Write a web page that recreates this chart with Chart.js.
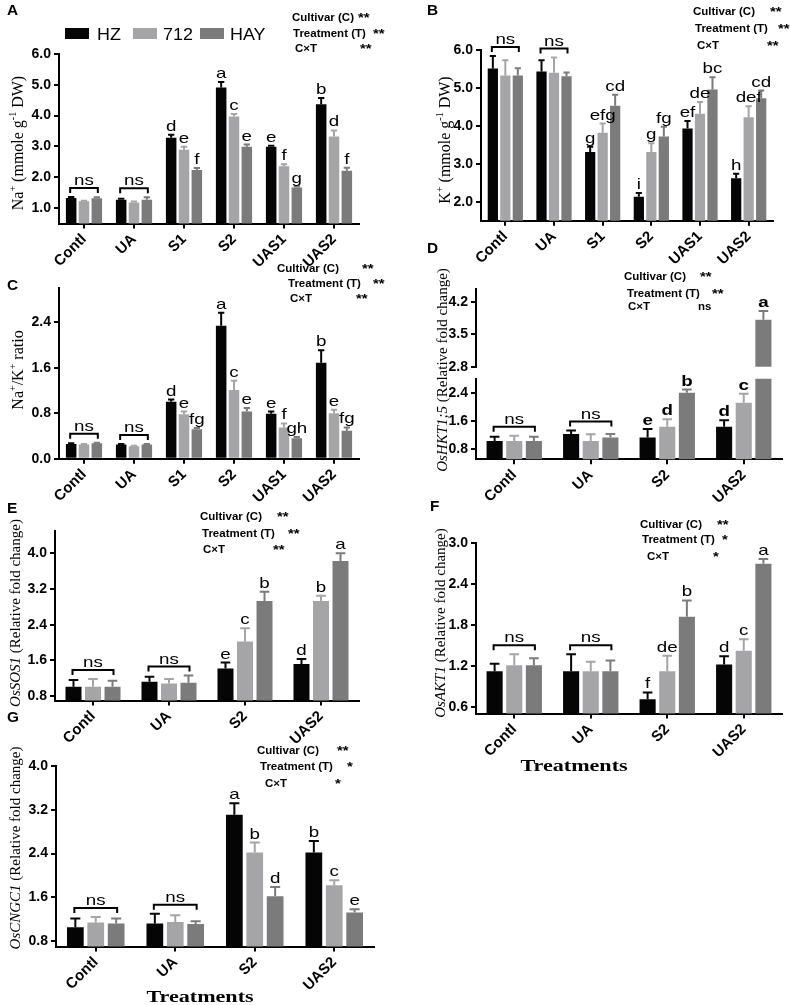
<!DOCTYPE html>
<html>
<head>
<meta charset="utf-8">
<script src="https://cdn.jsdelivr.net/npm/chart.js@4.4.1/dist/chart.umd.min.js"></script>
<style>
  html, body { margin: 0; padding: 0; background: #fff; }
  #wrap { position: relative; width: 790px; height: 1005px; overflow: hidden; background: #fff; }
  canvas { position: absolute; }
</style>
</head>
<body>
<div id="wrap"></div>
<script>
// categories
const treat6 = ['Contl', 'UA', 'S1', 'S2', 'UAS1', 'UAS2'];
const treat4 = ['Contl', 'UA', 'S2', 'UAS2'];
const cultivars = ['HZ', '712', 'HAY'];
const anovaRows = ['Cultivar (C)', 'Treatment (T)', 'C\u00d7T'];

// A - Na+
const naHZ  = [1.33, 1.27, 3.28, 4.91, 2.99, 4.37];
const na712 = [1.22, 1.18, 2.89, 3.97, 2.36, 3.32];
const naHAY = [1.32, 1.27, 2.24, 2.99, 1.67, 2.21];
const naErrHZ  = [0.03, 0.03, 0.10, 0.18, 0.03, 0.20];
const naErr712 = [0.02, 0.03, 0.10, 0.08, 0.06, 0.20];
const naErrHAY = [0.03, 0.08, 0.06, 0.07, 0.03, 0.10];
const naLetHZ  = ['', '', 'd', 'a', 'e', 'b'];
const naLet712 = ['', '', 'e', 'c', 'f', 'd'];
const naLetHAY = ['', '', 'f', 'e', 'g', 'f'];
const naTicks = [1, 2, 3, 4, 5, 6];
const naSig = ['**', '**', '**'];

// B - K+
const kHZ  = [5.51, 5.43, 3.31, 2.13, 3.93, 2.62];
const k712 = [5.33, 5.40, 3.82, 3.31, 4.32, 4.23];
const kHAY = [5.33, 5.31, 4.53, 3.72, 4.96, 4.73];
const kErrHZ  = [0.33, 0.30, 0.14, 0.10, 0.20, 0.12];
const kErr712 = [0.40, 0.40, 0.24, 0.23, 0.31, 0.29];
const kErrHAY = [0.19, 0.10, 0.29, 0.26, 0.32, 0.20];
const kLetHZ  = ['', '', 'g', 'i', 'ef', 'h'];
const kLet712 = ['', '', 'efg', 'g', 'de', 'def'];
const kLetHAY = ['', '', 'cd', 'fg', 'bc', 'cd'];
const kTicks = [2, 3, 4, 5, 6];
const kSig = ['**', '**', '**'];

// C - Na+/K+ ratio
const ratioHZ  = [0.26, 0.25, 1.00, 2.34, 0.79, 1.69];
const ratio712 = [0.25, 0.22, 0.78, 1.21, 0.55, 0.80];
const ratioHAY = [0.27, 0.25, 0.52, 0.83, 0.36, 0.49];
const ratioErrHZ  = [0.01, 0.01, 0.04, 0.23, 0.04, 0.22];
const ratioErr712 = [0.01, 0.01, 0.05, 0.16, 0.07, 0.06];
const ratioErrHAY = [0.01, 0.01, 0.02, 0.06, 0.02, 0.06];
const ratioLetHZ  = ['', '', 'd', 'a', 'e', 'b'];
const ratioLet712 = ['', '', 'e', 'c', 'f', 'e'];
const ratioLetHAY = ['', '', 'fg', 'e', 'gh', 'fg'];
const ratioTicks = [0, 0.8, 1.6, 2.4];
const ratioSig = ['**', '**', '**'];

// D - OsHKT1;5 (broken axis)
const hktHZ  = [1.02, 1.22, 1.12, 1.43];
const hkt712 = [1.02, 1.02, 1.43, 2.11];
const hktHAY = [1.02, 1.12, 2.40, 3.82];
const hktErrHZ  = [0.12, 0.10, 0.24, 0.18];
const hktErr712 = [0.15, 0.19, 0.21, 0.26];
const hktErrHAY = [0.12, 0.10, 0.09, 0.19];
const hktLetHZ  = ['', '', 'e', 'd'];
const hktLet712 = ['', '', 'd', 'c'];
const hktLetHAY = ['', '', 'b', 'a'];
const hktTicksLow = [0.8, 1.6, 2.4];
const hktTicksHigh = [2.8, 3.5, 4.2];
const hktSig = ['**', '**', 'ns'];

// E - OsSOS1
const sosHZ  = [1.01, 1.12, 1.42, 1.52];
const sos712 = [1.01, 1.08, 2.02, 2.93];
const sosHAY = [1.01, 1.10, 2.93, 3.83];
const sosErrHZ  = [0.15, 0.11, 0.13, 0.11];
const sosErr712 = [0.17, 0.10, 0.30, 0.12];
const sosErrHAY = [0.13, 0.16, 0.21, 0.17];
const sosLetHZ  = ['', '', 'e', 'd'];
const sosLet712 = ['', '', 'c', 'b'];
const sosLetHAY = ['', '', 'b', 'a'];
const sosTicks = [0.8, 1.6, 2.4, 3.2, 4.0];
const sosSig = ['**', '**', '**'];

// F - OsAKT1
const aktHZ  = [1.12, 1.12, 0.71, 1.22];
const akt712 = [1.21, 1.12, 1.12, 1.42];
const aktHAY = [1.21, 1.12, 1.92, 2.70];
const aktErrHZ  = [0.11, 0.25, 0.10, 0.12];
const aktErr712 = [0.16, 0.14, 0.23, 0.17];
const aktErrHAY = [0.10, 0.16, 0.24, 0.07];
const aktLetHZ  = ['', '', 'f', 'd'];
const aktLet712 = ['', '', 'de', 'c'];
const aktLetHAY = ['', '', 'b', 'a'];
const aktTicks = [0.6, 1.2, 1.8, 2.4, 3.0];
const aktSig = ['**', '*', '*'];

// G - OsCNGC1
const cngHZ  = [1.05, 1.12, 3.11, 2.42];
const cng712 = [1.14, 1.15, 2.42, 1.82];
const cngHAY = [1.12, 1.11, 1.62, 1.32];
const cngErrHZ  = [0.16, 0.18, 0.21, 0.21];
const cngErr712 = [0.10, 0.12, 0.18, 0.09];
const cngErrHAY = [0.09, 0.05, 0.17, 0.06];
const cngLetHZ  = ['', '', 'a', 'b'];
const cngLet712 = ['', '', 'b', 'c'];
const cngLetHAY = ['', '', 'd', 'e'];
const cngTicks = [0.8, 1.6, 2.4, 3.2, 4.0];
const cngSig = ['**', '*', '*'];

const colors = ['#050505', '#a5a5a7', '#7b7b7b'];
const SANS = '"Liberation Sans", Arial, sans-serif';
const SERIF = '"Liberation Serif", "Times New Roman", serif';
const wrap = document.getElementById('wrap');

// text stretched horizontally like the source figure
function sText(ctx, t, x, y, font, align, sx) {
  ctx.save();
  ctx.font = font;
  ctx.textAlign = align;
  ctx.textBaseline = 'alphabetic';
  ctx.fillStyle = '#000';
  ctx.translate(x, y);
  ctx.scale(sx, 1);
  ctx.fillText(t, 0, 0);
  ctx.restore();
}

// rotated y title with superscripts / italics
function vTitle(ctx, segs, cx, cy, size) {
  const f = s => (s.it ? 'italic ' : '') + (s.sup ? Math.round(size * 0.62) : size) + 'px ' + SERIF;
  ctx.save();
  let total = 0;
  segs.forEach(s => { ctx.font = f(s); total += ctx.measureText(s.t).width; });
  ctx.translate(cx, cy);
  ctx.rotate(-Math.PI / 2);
  ctx.fillStyle = '#000';
  ctx.textAlign = 'left';
  ctx.textBaseline = 'alphabetic';
  const base = size * 0.35;
  let x = -total / 2;
  segs.forEach(s => {
    ctx.font = f(s);
    ctx.fillText(s.t, x, s.sup ? base - size * 0.42 : base);
    x += ctx.measureText(s.t).width;
  });
  ctx.restore();
}

function makeAnno(p) {
  const ox = p.box[0], oy = p.box[1];
  return {
    id: 'anno',
    afterDatasetsDraw(chart) {
      const ctx = chart.ctx, ys = chart.scales.y;
      const lf = (p.boldLetters ? 'bold ' : '') + '15px ' + SANS;
      // error bars + letters
      chart.data.datasets.forEach((ds, d) => {
        chart.getDatasetMeta(d).data.forEach((bar, i) => {
          const v = ds.data[i];
          if (v < ys.min || v > ys.max) return;
          const top = ys.getPixelForValue(v + p.errs[d][i]);
          const half = bar.width * 0.3;
          ctx.save();
          ctx.strokeStyle = ds.backgroundColor;
          ctx.lineWidth = 2;
          ctx.beginPath();
          ctx.moveTo(bar.x, bar.y);
          ctx.lineTo(bar.x, top);
          ctx.moveTo(bar.x - half, top);
          ctx.lineTo(bar.x + half, top);
          ctx.stroke();
          ctx.restore();
          const lt = p.letters[d][i];
          if (lt) sText(ctx, lt, bar.x, top - 4, lf, 'center', 1.25);
        });
      });
      // ns brackets
      (p.ns || []).forEach(i => {
        const m0 = chart.getDatasetMeta(0).data[i];
        const m2 = chart.getDatasetMeta(2).data[i];
        let topPx = Infinity;
        chart.data.datasets.forEach((ds, d) => {
          topPx = Math.min(topPx, ys.getPixelForValue(ds.data[i] + p.errs[d][i]));
        });
        const x1 = m0.x - 1, x2 = m2.x + 1, by = topPx - 9;
        ctx.save();
        ctx.strokeStyle = '#000';
        ctx.lineWidth = 2;
        ctx.beginPath();
        ctx.moveTo(x1, by + 5);
        ctx.lineTo(x1, by);
        ctx.lineTo(x2, by);
        ctx.lineTo(x2, by + 5);
        ctx.stroke();
        ctx.restore();
        sText(ctx, 'ns', (x1 + x2) / 2, by - 3, '15px ' + SANS, 'center', 1.25);
      });
    },
    afterDraw(chart) {
      const ctx = chart.ctx;
      if (p.label) sText(ctx, p.label[0], p.label[1] - ox, p.label[2] - oy, 'bold 14px ' + SANS, 'left', 1.1);
      if (p.anova) {
        anovaRows.forEach((r, k) => {
          const a = p.anova.pos[k], s = p.anova.sigPos[k];
          sText(ctx, r, a[0] - ox, a[1] - oy, 'bold 10px ' + SANS, 'left', 1.15);
          const sig = p.anova.sig[k];
          const sf = sig === 'ns' ? 'bold 10px ' + SANS : 'bold 13px ' + SANS;
          sText(ctx, sig, s[0] - ox, s[1] - oy + (sig === 'ns' ? 0 : 1), sf, 'left', 1.15);
        });
      }
      if (p.title) vTitle(ctx, p.title.segs, p.title.pos[0] - ox, p.title.pos[1] - oy, p.title.size);
      if (p.legend) {
        const L = p.legend;
        chart.data.datasets.forEach((ds, d) => {
          ctx.fillStyle = ds.backgroundColor;
          ctx.fillRect(L.boxX[d] - ox, L.y - oy, L.w, L.h);
          sText(ctx, ds.label, L.textX[d] - ox, L.y + L.h + 0.5 - oy, '16px ' + SANS, 'left', 1.12);
        });
      }
      if (p.xTitle) sText(ctx, p.xTitle[0], p.xTitle[1] - ox, p.xTitle[2] - oy, 'bold 17px ' + SERIF, 'center', 1.3);
    }
  };
}

function buildPanel(p) {
  const cv = document.createElement('canvas');
  cv.width = p.box[2];
  cv.height = p.box[3];
  cv.style.left = p.box[0] + 'px';
  cv.style.top = p.box[1] + 'px';
  cv.style.width = p.box[2] + 'px';
  cv.style.height = p.box[3] + 'px';
  wrap.appendChild(cv);
  const YW = 40, XH = p.hideX ? 0 : 45;
  const a = p.area;
  new Chart(cv, {
    type: 'bar',
    data: {
      labels: p.labels,
      datasets: p.series.map((s, k) => ({
        label: cultivars[k],
        data: s,
        backgroundColor: colors[k],
        borderWidth: 0,
        categoryPercentage: 0.77,
        barPercentage: 0.82
      }))
    },
    options: {
      responsive: false,
      animation: false,
      devicePixelRatio: 1,
      layout: {
        padding: {
          left: a[0] - p.box[0] - YW,
          top: a[1] - p.box[1],
          right: p.box[0] + p.box[2] - a[2],
          bottom: p.box[1] + p.box[3] - a[3] - XH
        }
      },
      plugins: { legend: { display: false }, tooltip: { enabled: false } },
      scales: {
        x: {
          display: !p.hideX,
          offset: true,
          grid: { display: true, offset: false, drawOnChartArea: false, drawTicks: true, tickLength: 5, color: '#000', lineWidth: 2 },
          border: { display: true, color: '#000', width: 2 },
          ticks: { minRotation: 45, maxRotation: 45, autoSkip: false, padding: 2, color: '#000',
                   font: { family: SANS, size: 15, weight: 'bold' } },
          afterFit: s => { s.height = XH; }
        },
        y: {
          min: p.min,
          max: p.max,
          grid: { display: true, drawOnChartArea: false, drawTicks: true, tickLength: 5, color: '#000', lineWidth: 2 },
          border: { display: true, color: '#000', width: 2 },
          ticks: { padding: 3, color: '#000', font: { family: SANS, size: 14, weight: 'bold' },
                   callback: v => Number(v).toFixed(1) },
          afterBuildTicks: s => { s.ticks = p.ticks.map(v => ({ value: v })); },
          afterFit: s => { s.width = YW; }
        }
      }
    },
    plugins: [makeAnno(p)]
  });
}

const geneTitle = g => [{ t: g, it: true }, { t: ' (Relative fold change)' }];

buildPanel({
  box: [0, 0, 400, 275], area: [59, 54, 359, 223.5],
  labels: treat6, series: [naHZ, na712, naHAY], errs: [naErrHZ, naErr712, naErrHAY],
  letters: [naLetHZ, naLet712, naLetHAY], min: 0.5, max: 6, ticks: naTicks, ns: [0, 1],
  label: ['A', 7, 15],
  title: { segs: [{ t: 'Na' }, { t: '+', sup: true }, { t: ' (mmole g' }, { t: '-1', sup: true }, { t: ' DW)' }], pos: [17, 143], size: 16 },
  anova: { sig: naSig, pos: [[292, 21], [293, 37], [295, 52]], sigPos: [[358, 21], [373, 37], [360, 52]] },
  legend: { y: 28, w: 24, h: 11, boxX: [65, 133, 200], textX: [97, 163, 230] }
});

buildPanel({
  box: [400, 0, 390, 270], area: [481, 50, 773, 220.7],
  labels: treat6, series: [kHZ, k712, kHAY], errs: [kErrHZ, kErr712, kErrHAY],
  letters: [kLetHZ, kLet712, kLetHAY], min: 1.5, max: 6, ticks: kTicks, ns: [0, 1],
  label: ['B', 427, 15],
  title: { segs: [{ t: 'K' }, { t: '+', sup: true }, { t: ' (mmole g' }, { t: '-1', sup: true }, { t: ' DW)' }], pos: [444, 140], size: 16 },
  anova: { sig: kSig, pos: [[693, 15], [695, 32], [697, 48.5]], sigPos: [[770, 15], [778, 32], [767, 48.5]] }
});

buildPanel({
  box: [0, 258, 400, 250], area: [59, 288.2, 359, 458.7],
  labels: treat6, series: [ratioHZ, ratio712, ratioHAY], errs: [ratioErrHZ, ratioErr712, ratioErrHAY],
  letters: [ratioLetHZ, ratioLet712, ratioLetHAY], min: 0, max: 3.0, ticks: ratioTicks, ns: [0, 1],
  label: ['C', 7, 290],
  title: { segs: [{ t: 'Na' }, { t: '+', sup: true }, { t: '/K' }, { t: '+', sup: true }, { t: ' ratio' }], pos: [17, 370], size: 16 },
  anova: { sig: ratioSig, pos: [[277, 271.5], [288, 287], [290, 301.5]], sigPos: [[362, 271.5], [373, 287], [356, 301.5]] }
});

// D upper segment (broken axis)
buildPanel({
  box: [400, 238, 390, 277], area: [476, 288.5, 782, 366.7], hideX: true,
  labels: treat4, series: [hktHZ, hkt712, hktHAY], errs: [hktErrHZ, hktErr712, hktErrHAY],
  letters: [hktLetHZ, hktLet712, hktLetHAY], min: 2.8, max: 4.5, ticks: hktTicksHigh, boldLetters: true,
  label: ['D', 427, 253],
  title: { segs: geneTitle('OsHKT1;5'), pos: [442, 370], size: 15 },
  anova: { sig: hktSig, pos: [[624, 279.5], [627, 296.5], [628, 310]], sigPos: [[700, 279.5], [712, 296.5], [698, 310]] }
});
// D lower segment
buildPanel({
  box: [400, 366, 390, 149], area: [476, 378.7, 782, 459.2],
  labels: treat4, series: [hktHZ, hkt712, hktHAY], errs: [hktErrHZ, hktErr712, hktErrHAY],
  letters: [hktLetHZ, hktLet712, hktLetHAY], min: 0.5, max: 2.8, ticks: hktTicksLow, ns: [0, 1], boldLetters: true
});

buildPanel({
  box: [0, 498, 400, 250], area: [55, 531, 359, 700.5],
  labels: treat4, series: [sosHZ, sos712, sosHAY], errs: [sosErrHZ, sosErr712, sosErrHAY],
  letters: [sosLetHZ, sosLet712, sosLetHAY], min: 0.7, max: 4.5, ticks: sosTicks, ns: [0, 1],
  label: ['E', 7, 513],
  title: { segs: geneTitle('OsSOS1'), pos: [15, 613], size: 15 },
  anova: { sig: sosSig, pos: [[200, 519.5], [202, 536.5], [203, 552.5]], sigPos: [[277, 519.5], [288, 536.5], [273, 552.5]] }
});

buildPanel({
  box: [400, 498, 390, 280], area: [476, 543.3, 782, 713.5],
  labels: treat4, series: [aktHZ, akt712, aktHAY], errs: [aktErrHZ, aktErr712, aktErrHAY],
  letters: [aktLetHZ, aktLet712, aktLetHAY], min: 0.5, max: 3.0, ticks: aktTicks, ns: [0, 1],
  label: ['F', 430, 511],
  title: { segs: geneTitle('OsAKT1'), pos: [440, 623], size: 15 },
  anova: { sig: aktSig, pos: [[640, 527.5], [642, 542.5], [647, 559.5]], sigPos: [[717, 527.5], [722, 542.5], [713, 559.5]] },
  xTitle: ['Treatments', 574, 771]
});

buildPanel({
  box: [0, 705, 400, 300], area: [56, 766, 374, 946.5],
  labels: treat4, series: [cngHZ, cng712, cngHAY], errs: [cngErrHZ, cngErr712, cngErrHAY],
  letters: [cngLetHZ, cngLet712, cngLetHAY], min: 0.7, max: 4.0, ticks: cngTicks, ns: [0, 1],
  label: ['G', 7, 722],
  title: { segs: geneTitle('OsCNGC1'), pos: [15, 848], size: 15 },
  anova: { sig: cngSig, pos: [[257, 754], [260, 770], [265, 786.5]], sigPos: [[337, 754], [347, 770], [335, 786.5]] },
  xTitle: ['Treatments', 200, 1002]
});
</script>
</body>
</html>
